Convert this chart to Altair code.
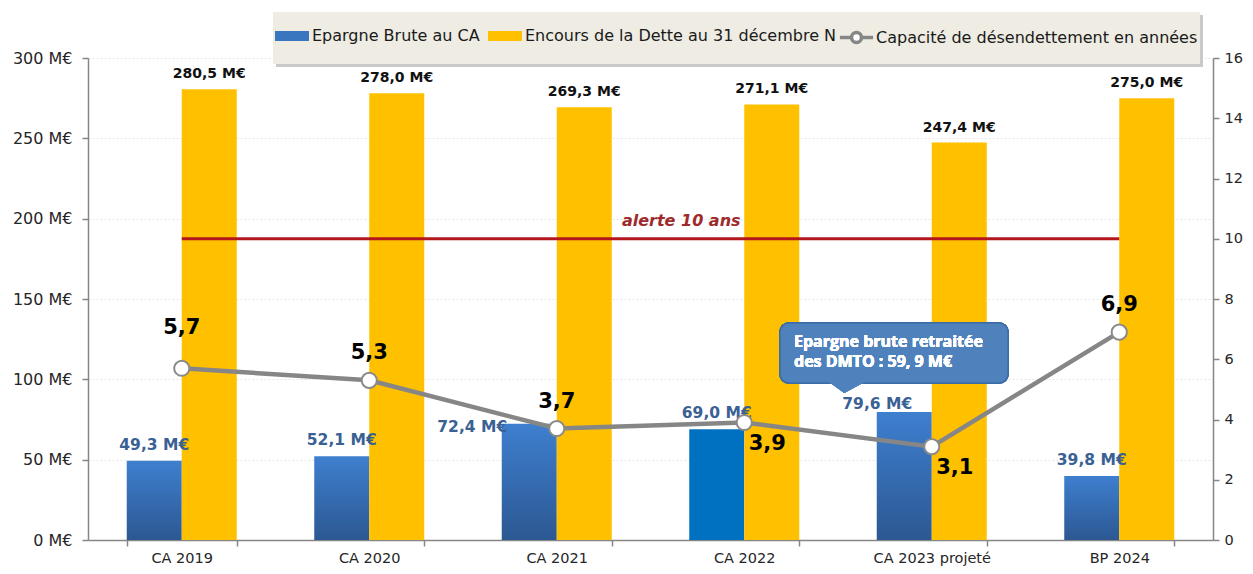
import altair as alt
import pandas as pd

# ---------------- data ----------------
categories = ["CA 2019", "CA 2020", "CA 2021", "CA 2022", "CA 2023 projeté", "BP 2024"]
epargne = [49.3, 52.1, 72.4, 69.0, 79.6, 39.8]
encours = [280.5, 278.0, 269.3, 271.1, 247.4, 275.0]
capacite = [5.7, 5.3, 3.7, 3.9, 3.1, 6.9]
alerte_value = [10, 10]
alerte_ends = ["CA 2019", "BP 2024"]
alerte_text = "alerte 10 ans"
left_ticks = [0, 50, 100, 150, 200, 250, 300]
right_ticks = [0, 2, 4, 6, 8, 10, 12, 14, 16]
callout_lines = ["Epargne brute retraitée", "des DMTO : 59, 9 M€"]

S_EP = "Epargne Brute au CA"
S_EN = "Encours de la Dette au 31 décembre N"
S_CAP = "Capacité de désendettement en années"

FONT = "DejaVu Sans"
BLUE = "#3a75c0"
BLUE_SOLID = "#0070c0"
YELLOW = "#ffc000"
GREY = "#868686"


def fr(v, unit=""):
    return f"{v:.1f}".replace(".", ",") + unit


bars = pd.DataFrame({
    "category": categories + categories,
    "series": [S_EP] * len(categories) + [S_EN] * len(categories),
    "value": epargne + encours,
})
bars["label"] = [fr(v, " M€") for v in bars["value"]]

line = pd.DataFrame({
    "category": categories,
    "series": [S_CAP] * len(categories),
    "value": capacite,
    "label": [fr(v) for v in capacite],
})

rule_df = pd.DataFrame({"category": alerte_ends, "value": alerte_value})
alert_df = pd.DataFrame({"category": ["CA 2022"], "value": [alerte_value[0]], "label": [alerte_text]})

# ---------------- encodings ----------------
x_enc = alt.X(
    "category:N", sort=categories,
    scale=alt.Scale(domain=categories, paddingInner=0.4133, paddingOuter=0.20665),
    axis=alt.Axis(title=None, labelAngle=0, labelFont=FONT, labelFontSize=14.5,
                  labelColor="#262626", labelPadding=5, domainColor=GREY, domainWidth=1.5,
                  tickColor=GREY, tickWidth=1.5, tickSize=6, tickBand="extent", grid=False),
)
xo_enc = alt.XOffset("series:N", sort=[S_EP, S_EN],
                     scale=alt.Scale(domain=[S_EP, S_EN], paddingInner=0, paddingOuter=0))

y_left = alt.Y(
    "value:Q", scale=alt.Scale(domain=[0, 300], nice=False, zero=True),
    axis=alt.Axis(title=None, orient="left", values=left_ticks, labelExpr="datum.value + ' M€'",
                  labelFont=FONT, labelFontSize=16, labelColor="#262626", labelPadding=10,
                  domainColor=GREY, domainWidth=1.5, tickColor=GREY, tickWidth=1.5, tickSize=6,
                  grid=True, gridColor="#e6e6e6", gridDash=[2, 2]),
)
y_right = alt.Y(
    "value:Q", scale=alt.Scale(domain=[0, 16], nice=False, zero=True),
    axis=alt.Axis(title=None, orient="right", values=right_ticks,
                  labelFont=FONT, labelFontSize=14.5, labelColor="#262626", labelPadding=5,
                  domainColor=GREY, domainWidth=1.5, tickColor=GREY, tickWidth=1.5, tickSize=6,
                  grid=False),
)

RECT_PATH = "M-1,-0.3H1V0.3H-1Z"
LINE_PATH = "M-1,0H-0.3M0.3,0H1M0.3,0A0.3,0.3,0,1,1,-0.3,0A0.3,0.3,0,1,1,0.3,0"

legend_bars = alt.Legend(
    title=None, orient="none", legendX=187, legendY=-39, direction="horizontal",
    symbolType=RECT_PATH, symbolSize=1156, symbolStrokeWidth=0, symbolOpacity=1,
    labelFont=FONT, labelFontSize=16, labelColor="#1a1a1a", labelOffset=3,
    columnPadding=8, padding=0, zindex=1, labelLimit=500,
)
legend_line = alt.Legend(
    title=None, orient="none", legendX=750, legendY=-39, direction="horizontal",
    symbolType=LINE_PATH, symbolSize=1100, symbolStrokeWidth=3.5, symbolFillColor="#ffffff",
    symbolOpacity=1,
    labelFont=FONT, labelFontSize=16, labelColor="#1a1a1a", labelOffset=1,
    padding=0, zindex=1, labelLimit=500,
)

# ---------------- left (M€) layers ----------------
base_bars = alt.Chart(bars)

legend_bg_shadow = alt.Chart(bars).mark_rect(color="#c9c9c9").encode(
    x=alt.value(188), x2=alt.value(1115), y=alt.value(-43), y2=alt.value(9))
legend_bg = alt.Chart(bars).mark_rect(color="#eeece3").encode(
    x=alt.value(185), x2=alt.value(1112), y=alt.value(-46), y2=alt.value(6))

blue_grad = alt.Gradient(
    gradient="linear",
    stops=[alt.GradientStop(color="#3e7fcf", offset=0), alt.GradientStop(color="#2c5892", offset=1)],
    x1=0, x2=0, y1=0, y2=1,
)

blue_bars = base_bars.transform_filter(
    (alt.datum.series == S_EP) & (alt.datum.category != "CA 2022")
).mark_bar(fill=blue_grad).encode(x=x_enc, xOffset=xo_enc, y=y_left)

blue_2022 = base_bars.transform_filter(
    (alt.datum.series == S_EP) & (alt.datum.category == "CA 2022")
).mark_bar(fill=BLUE_SOLID).encode(x=x_enc, xOffset=xo_enc, y=y_left)

yellow_bars = base_bars.transform_filter(alt.datum.series == S_EN).mark_bar().encode(
    x=x_enc, xOffset=xo_enc, y=y_left,
    color=alt.Color("series:N", scale=alt.Scale(domain=[S_EP, S_EN], range=[BLUE, YELLOW]),
                    legend=legend_bars),
)

yellow_labels = base_bars.transform_filter(alt.datum.series == S_EN).mark_text(
    font=FONT, fontSize=14, fontWeight="bold", color="#111111", dy=-15, baseline="middle"
).encode(x=x_enc, xOffset=xo_enc, y=y_left, text="label:N")

BL_COLOR = "#3a6194"
BL_SIZE = 15.5
blue_labels_std = base_bars.transform_filter(
    (alt.datum.series == S_EP) & (alt.datum.category != "CA 2021") & (alt.datum.category != "CA 2023 projeté")
).mark_text(font=FONT, fontSize=BL_SIZE, fontWeight="bold", color=BL_COLOR, dy=-16, baseline="middle"
            ).encode(x=x_enc, xOffset=xo_enc, y=y_left, text="label:N")

blue_label_2021 = base_bars.transform_filter(
    (alt.datum.series == S_EP) & (alt.datum.category == "CA 2021")
).mark_text(font=FONT, fontSize=BL_SIZE, fontWeight="bold", color=BL_COLOR, dx=-57, dy=3, baseline="middle"
            ).encode(x=x_enc, xOffset=xo_enc, y=y_left, text="label:N")

blue_label_2023 = base_bars.transform_filter(
    (alt.datum.series == S_EP) & (alt.datum.category == "CA 2023 projeté")
).mark_text(font=FONT, fontSize=BL_SIZE, fontWeight="bold", color=BL_COLOR, dx=-27, dy=-8, baseline="middle"
            ).encode(x=x_enc, xOffset=xo_enc, y=y_left, text="label:N")

left = alt.layer(legend_bg_shadow, legend_bg, blue_bars, blue_2022, yellow_bars,
                 yellow_labels, blue_labels_std, blue_label_2021, blue_label_2023)

# ---------------- right (years) layers ----------------
rule = alt.Chart(rule_df).mark_line(color="#b3161b", strokeWidth=3).encode(x=x_enc, y=y_right)

alert_label = alt.Chart(alert_df).mark_text(
    font=FONT, fontSize=16, fontWeight="bold", fontStyle="italic", color="#9e2a2b",
    dx=-63, dy=-18, baseline="middle"
).encode(x=x_enc, y=y_right, text="label:N")

cap_line = alt.Chart(line).mark_line(strokeWidth=4.5).encode(
    x=x_enc, y=y_right,
    stroke=alt.Stroke("series:N", scale=alt.Scale(domain=[S_CAP], range=["#868686"]), legend=legend_line),
)
cap_points = alt.Chart(line).mark_point(
    shape="circle", size=230, filled=True, fill="#ffffff", stroke="#8a8a8a", strokeWidth=2, opacity=1
).encode(x=x_enc, y=y_right)

above = ["CA 2020", "CA 2021", "BP 2024"]
cap_labels_above = alt.Chart(line).transform_filter(
    alt.FieldOneOfPredicate(field="category", oneOf=above)
).mark_text(font=FONT, fontSize=21, fontWeight="bold", color="#000000", dy=-27, baseline="middle"
            ).encode(x=x_enc, y=y_right, text="label:N")
cap_labels_high = alt.Chart(line).transform_filter(
    alt.datum.category == "CA 2019"
).mark_text(font=FONT, fontSize=21, fontWeight="bold", color="#000000", dy=-40, baseline="middle"
            ).encode(x=x_enc, y=y_right, text="label:N")
cap_labels_below = alt.Chart(line).transform_filter(
    alt.FieldOneOfPredicate(field="category", oneOf=["CA 2022", "CA 2023 projeté"])
).mark_text(font=FONT, fontSize=21, fontWeight="bold", color="#000000", dx=23, dy=21, baseline="middle"
            ).encode(x=x_enc, y=y_right, text="label:N")

callout_box = alt.Chart(line).mark_rect(
    fill="#4f81bd", stroke="#3d6da6", strokeWidth=1.5, cornerRadius=9
).encode(x=alt.value(692), x2=alt.value(920), y=alt.value(265), y2=alt.value(325))
callout_tip = alt.Chart(line).mark_point(
    shape="M-1,-0.35L1,-0.35L-0.15,0.27Z", size=1369, filled=True, fill="#4f81bd", opacity=1,
    strokeWidth=0
).encode(x=alt.value(759), y=alt.value(330))
callout_text = alt.Chart(line).mark_text(
    text=callout_lines, font="Open Sans", fontSize=16, fontWeight="bold", color="#ffffff",
    align="left", baseline="alphabetic", lineHeight=20
).encode(x=alt.value(706), y=alt.value(289))

right = alt.layer(rule, alert_label, cap_line, cap_points, cap_labels_above, cap_labels_high,
                  cap_labels_below, callout_box, callout_tip, callout_text)

chart = alt.layer(left, right).resolve_scale(y="independent").properties(
    width=1125, height=482,
    autosize=alt.AutoSizeParams(type="none"),
    padding={"left": 80, "top": 50, "right": 32, "bottom": 26},
    background="#ffffff",
).configure_view(stroke=None)

chart.save("out.html", embed_options={"renderer": "svg", "actions": False})
